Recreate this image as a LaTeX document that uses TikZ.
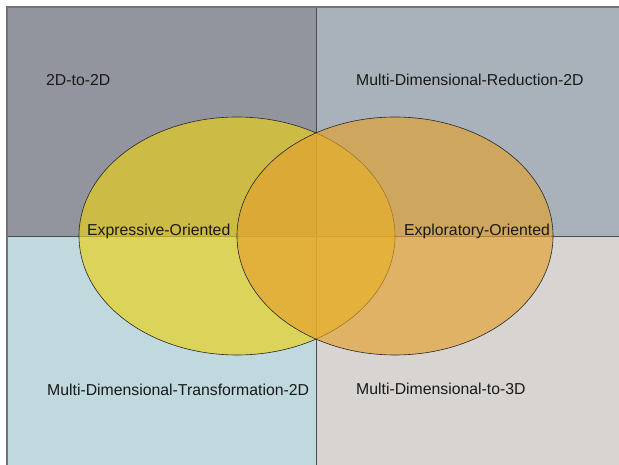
\documentclass[tikz,border=0pt]{standalone}
\usepackage{fontspec}
\setmainfont{Liberation Sans}
\usetikzlibrary{positioning}

\definecolor{quadTL}{HTML}{93959E}
\definecolor{quadTR}{HTML}{A9B2BA}
\definecolor{quadBL}{HTML}{C0D9DF}
\definecolor{quadBR}{HTML}{D8D4D2}
\definecolor{blobYellow}{RGB}{236,208,20}
\definecolor{blobOrange}{RGB}{228,160,45}

\begin{document}
\begin{tikzpicture}[
        x=1pt, y=-1pt,
        divider/.style={draw=black!70, line width=0.9pt},
        frame/.style={draw=black!55, line width=1.6pt},
        blob/.style={draw=black!85, line width=0.6pt, fill opacity=0.65},
        label/.style={anchor=base west, inner sep=0pt, text=black!90,
                      font=\fontsize{15.8}{19}\selectfont}
    ]
        \useasboundingbox (0,0) rectangle (619,465);
        \coordinate (mid) at (316,236);

        % Quadrants
        \fill[quadTL] (7,7) rectangle (mid);
        \fill[quadTR] (316,7) rectangle (619,236);
        \fill[quadBL] (7,236) rectangle (316,465);
        \fill[quadBR] (mid) rectangle (619,465);
        \draw[divider] (316,7) -- (316,465);
        \draw[divider] (7,236) -- (619,236);
        \draw[frame] (7,465) -- (7,7) -- (619,7);

        % Ellipses
        \filldraw[blob, fill=blobYellow] (237,236) ellipse (158 and 119);
        \filldraw[blob, fill=blobOrange] (395,236) ellipse (158 and 119);

        % Labels
        \node[label] (twod)      at (46,85.5) {2D-to-2D};
        \node[label] (reduction) at (356,86)  {Multi-Dimensional-Reduction-2D};
        \node[label] (expressive)  at (87,235.5) {Expressive-Oriented};
        \node[label] (exploratory) at (404,235.5) {Exploratory-Oriented};
        \node[label] (transform) at (47,395)  {Multi-Dimensional-Transformation-2D};
        \node[label] (threed)    at (356,394.5) {Multi-Dimensional-to-3D};
    \end{tikzpicture}
\end{document}
